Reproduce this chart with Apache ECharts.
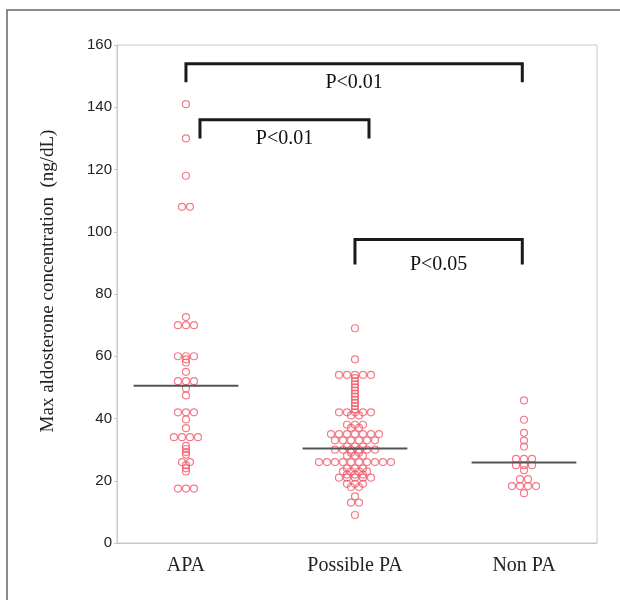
<!DOCTYPE html>
<html>
<head>
<meta charset="utf-8">
<script src="https://cdn.jsdelivr.net/npm/echarts@6/dist/echarts.min.js"></script>
<style>
  html, body { margin: 0; padding: 0; background: #fff; }
  #chart { width: 620px; height: 600px; }
</style>
</head>
<body>
<div id="chart"></div>
<script>
// Max aldosterone concentration dot plot — three groups, mean bar per group,
// significance brackets on top. Points are spread sideways when values tie.

const categories = ['APA', 'Possible PA', 'Non PA'];

// ng/dL
const apaValues = [
  141, 130, 118, 108, 108,
  72.6, 70, 70, 70,
  60, 60, 60, 59, 58,
  55, 52, 52, 52, 49.6, 47.4,
  42, 42, 42, 39.7, 36.9,
  34, 34, 34, 34, 31.2, 30.2, 29.2, 28.4,
  26, 26, 25, 24, 23,
  17.5, 17.5, 17.5
];

const possiblePaValues = [
  69, 59,
  54, 54, 54, 54, 54,
  53, 52, 51, 50, 49, 48, 47, 46, 45, 44, 43,
  42, 42, 42, 42, 42, 41, 41,
  38, 38, 38, 37, 37,
  35, 35, 35, 35, 35, 35, 35,
  33, 33, 33, 33, 33, 33,
  31, 31, 31,
  30, 30, 30, 30, 30, 30,
  29, 29, 28, 28, 28,
  26, 26, 26, 26, 26, 26, 26, 26, 26, 26,
  24, 24, 24,
  23, 23, 23, 23, 22, 22, 22,
  21, 21, 21, 21, 21,
  19, 19, 19, 18, 18,
  15, 13, 13, 9
];

const nonPaValues = [
  45.8, 39.6, 35.4, 32.9, 31,
  27, 27, 27, 25, 25, 25, 23.4,
  20.5, 20.5, 18.3, 18.3, 18.3, 18.3, 16
];

// group means (ng/dL) as drawn in the figure
const meanValues = [50.5, 30.4, 25.9];

// significance brackets: x from / to (group units), top level, leg end level, text
const bracketFrom = [1, 1.083, 2];
const bracketTo = [2.99, 2.083, 2.99];
const bracketTop = [154, 136, 97.5];
const bracketBottom = [148, 130, 89.5];
const bracketLabels = ['P<0.01', 'P<0.01', 'P<0.05'];

const SWARM_STEP = 8 / 169;      // sideways step between tied points (group units)
const MEAN_HALF = 0.31;          // half length of mean bar (group units)
const POINT_COLOR = '#ef5b6b';

/**
 * Spread tied values (same rounded value) symmetrically around the group centre
 */
function swarm(values, center) {
  const bins = {};
  values.forEach(function (v) {
    const key = Math.round(v);
    (bins[key] = bins[key] || []).push(v);
  });
  const pts = [];
  Object.keys(bins).forEach(function (k) {
    const members = bins[k].slice().sort(function (a, b) { return a - b; });
    const n = members.length;
    members.forEach(function (v, i) {
      pts.push([center + (i - (n - 1) / 2) * SWARM_STEP, v]);
    });
  });
  return pts;
}

const groups = [apaValues, possiblePaValues, nonPaValues];

const scatterSeries = groups.map(function (vals, gi) {
  return {
    type: 'scatter',
    name: categories[gi],
    data: swarm(vals, gi + 1),
    symbol: 'circle',
    symbolSize: 7,
    itemStyle: {
      color: 'rgba(255,255,255,0)',
      borderColor: POINT_COLOR,
      borderWidth: 1.2
    },
    z: 3
  };
});

const chart = echarts.init(document.getElementById('chart'), null, { renderer: 'canvas' });

chart.setOption({
  animation: false,
  backgroundColor: '#fff',
  grid: {
    left: 117, right: 23, top: 45, bottom: 57,
    show: true,
    borderColor: '#c8c8c8',
    borderWidth: 1
  },
  xAxis: {
    type: 'value',
    min: 0.592,
    max: 3.432,
    axisLine: { show: true, lineStyle: { color: '#c8c8c8' } },
    axisTick: { show: false },
    splitLine: { show: false },
    axisLabel: {
      customValues: [1, 2, 3],
      formatter: function (v) { return categories[Math.round(v) - 1] || ''; },
      fontFamily: 'Liberation Serif',
      fontSize: 20,
      color: '#222',
      margin: 13
    }
  },
  yAxis: {
    type: 'value',
    min: 0,
    max: 160,
    interval: 20,
    axisLine: { show: true, lineStyle: { color: '#c8c8c8' } },
    axisTick: { show: true, length: 3, lineStyle: { color: '#c8c8c8' } },
    splitLine: { show: false },
    axisLabel: {
      fontFamily: 'Liberation Sans',
      fontSize: 15,
      color: '#222',
      margin: 5
    }
  },
  graphic: [
    // outer figure frame
    {
      type: 'rect',
      shape: { x: 7, y: 10, width: 700, height: 700 },
      style: { fill: 'none', stroke: '#666', lineWidth: 1.5 },
      silent: true
    },
    // y axis title
    {
      type: 'text',
      x: 48,
      y: 281,
      rotation: Math.PI / 2,
      style: {
        text: 'Max aldosterone concentration  (ng/dL)',
        font: '19px "Liberation Serif"',
        fill: '#222',
        align: 'center',
        verticalAlign: 'middle'
      },
      silent: true
    }
  ],
  series: scatterSeries.concat([
    // group mean bars
    {
      type: 'custom',
      data: meanValues.map(function (m, i) { return [i + 1, m]; }),
      renderItem: function (params, api) {
        const p0 = api.coord([api.value(0) - MEAN_HALF, api.value(1)]);
        const p1 = api.coord([api.value(0) + MEAN_HALF, api.value(1)]);
        return {
          type: 'line',
          shape: { x1: p0[0], y1: p0[1], x2: p1[0], y2: p1[1] },
          style: { stroke: '#555', lineWidth: 2 }
        };
      },
      z: 4
    },
    // significance brackets with p-value text
    {
      type: 'custom',
      data: bracketFrom.map(function (f, i) {
        return [f, bracketTo[i], bracketTop[i], bracketBottom[i]];
      }),
      renderItem: function (params, api) {
        const x0 = api.value(0), x1 = api.value(1);
        const top = api.value(2), bottom = api.value(3);
        const pts = [
          api.coord([x0, bottom]),
          api.coord([x0, top]),
          api.coord([x1, top]),
          api.coord([x1, bottom])
        ];
        const mid = api.coord([(x0 + x1) / 2, bottom]);
        return {
          type: 'group',
          children: [
            {
              type: 'polyline',
              shape: { points: pts },
              style: { stroke: '#1a1a1a', lineWidth: 3, fill: 'none' }
            },
            {
              type: 'text',
              x: mid[0],
              y: mid[1],
              style: {
                text: bracketLabels[params.dataIndex],
                font: '20px "Liberation Serif"',
                fill: '#111',
                align: 'center',
                verticalAlign: 'middle'
              }
            }
          ]
        };
      },
      z: 5
    }
  ])
});
</script>
</body>
</html>
